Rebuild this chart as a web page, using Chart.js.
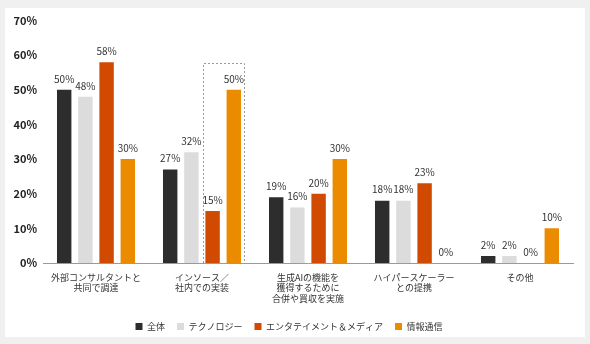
<!DOCTYPE html>
<html>
<head>
<meta charset="utf-8">
<script src="https://cdn.jsdelivr.net/npm/chart.js@4.4.1/dist/chart.umd.min.js"></script>
<style>
  html, body { margin: 0; padding: 0; background: #f0f0f0; width: 590px; height: 344px; overflow: hidden; }
  #card { position: absolute; left: 5px; top: 8px; width: 580px; height: 329px; background: #ffffff; }
  canvas { display: block; position: absolute; left: 0; top: 0; }
</style>
</head>
<body>
<div id="card"><canvas id="c" width="580" height="333"></canvas></div>
<script>
const categories = [
  ["外部コンサルタントと", "共同で調達"],
  ["インソース／", "社内での実装"],
  ["生成AIの機能を", "獲得するために", "合併や買収を実施"],
  ["ハイパースケーラー", "との提携"],
  ["その他"]
];
const seriesNames = ["全体", "テクノロジー", "エンタテイメント＆メディア", "情報通信"];
const overall = [50, 27, 19, 18, 2];
const technology = [48, 32, 16, 18, 2];
const entertainment = [58, 15, 20, 23, 0];
const telecom = [30, 50, 30, 0, 10];
const yTicks = [0, 10, 20, 30, 40, 50, 60, 70];
const colors = ["#2d2d2d", "#dcdcdc", "#d04a02", "#eb8c00"];
const highlight = { category: 1, fromSeries: 2, toSeries: 3 };

const FONT = "'Noto Sans CJK JP', 'Noto Sans', sans-serif";

const valueLabels = {
  id: 'valueLabels',
  afterDatasetsDraw(chart) {
    const ctx = chart.ctx;
    ctx.save();
    ctx.font = "10px " + FONT;
    ctx.fillStyle = "#333333";
    ctx.textAlign = "center";
    ctx.textBaseline = "bottom";
    chart.data.datasets.forEach((ds, i) => {
      const meta = chart.getDatasetMeta(i);
      meta.data.forEach((bar, j) => {
        ctx.fillText(ds.data[j] + "%", bar.x, bar.y - 6);
      });
    });
    ctx.restore();
  }
};

const highlightBox = {
  id: 'highlightBox',
  afterDatasetsDraw(chart) {
    const a = chart.getDatasetMeta(highlight.fromSeries).data[highlight.category];
    const b = chart.getDatasetMeta(highlight.toSeries).data[highlight.category];
    const y = chart.scales.y;
    const left = a.x - a.width / 2 - 2.5;
    const right = b.x + b.width / 2 + 2.5;
    const top = Math.min(a.y, b.y) - 27;
    const bottom = y.getPixelForValue(0);
    const ctx = chart.ctx;
    ctx.save();
    ctx.strokeStyle = "#9a9a9a";
    ctx.lineWidth = 1;
    ctx.setLineDash([2, 2]);
    ctx.beginPath();
    ctx.moveTo(Math.round(left) + 0.5, bottom);
    ctx.lineTo(Math.round(left) + 0.5, Math.round(top) + 0.5);
    ctx.lineTo(Math.round(right) + 0.5, Math.round(top) + 0.5);
    ctx.lineTo(Math.round(right) + 0.5, bottom);
    ctx.stroke();
    ctx.restore();
  }
};

const seriesData = [overall, technology, entertainment, telecom];

new Chart(document.getElementById('c'), {
  type: 'bar',
  data: {
    labels: categories,
    datasets: seriesNames.map((name, i) => ({
      label: name,
      data: seriesData[i],
      backgroundColor: colors[i],
      borderWidth: 0,
      categoryPercentage: 0.8,
      barPercentage: 0.68
    }))
  },
  options: {
    responsive: false,
    animation: false,
    devicePixelRatio: 1,
    layout: { padding: { top: 12, right: 12, left: 0, bottom: 0 } },
    plugins: {
      tooltip: { enabled: false },
      legend: {
        position: 'bottom',
        labels: {
          boxWidth: 7,
          boxHeight: 7,
          padding: 12,
          color: "#333333",
          font: { family: FONT, size: 9 }
        }
      }
    },
    scales: {
      x: {
        grid: { display: false, drawTicks: false },
        border: { display: true, color: "#9a9a9a", width: 1 },
        ticks: {
          color: "#333333",
          font: { family: FONT, size: 9, lineHeight: 1.17 },
          padding: 9,
          maxRotation: 0,
          autoSkip: false
        },
        afterFit(scale) { scale.height = 47; }
      },
      y: {
        min: 0,
        max: 70,
        grid: { display: false, drawTicks: false },
        border: { display: false },
        afterBuildTicks(scale) { scale.ticks = yTicks.map(v => ({ value: v })); },
        ticks: {
          color: "#222222",
          font: { family: FONT, size: 11, weight: 'bold' },
          padding: 6,
          callback: v => v + "%"
        },
        afterFit(scale) { scale.width = 38; }
      }
    }
  },
  plugins: [valueLabels, highlightBox]
});
</script>
</body>
</html>
